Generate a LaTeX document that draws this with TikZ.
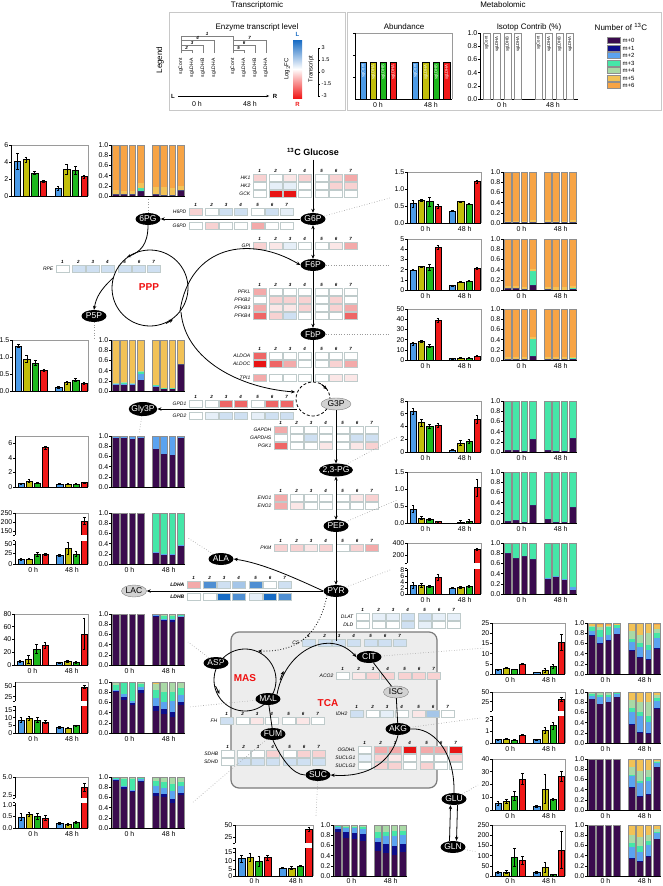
\documentclass[tikz,border=0pt]{standalone}
\usepackage{fontspec}
\setmainfont{Liberation Sans}
\usetikzlibrary{arrows.meta,shapes.geometric}
\newcommand\fsz[1]{\fontsize{#1}{#1}\selectfont}
\definecolor{cB}{HTML}{4C9BE8}\definecolor{cO}{HTML}{C2BE0A}
\definecolor{cG}{HTML}{1DB81D}\definecolor{cR}{HTML}{F01818}
\colorlet{bc1}{cB}\colorlet{bc2}{cO}\colorlet{bc3}{cG}\colorlet{bc4}{cR}
\colorlet{bc5}{cB}\colorlet{bc6}{cO}\colorlet{bc7}{cG}\colorlet{bc8}{cR}
\definecolor{m0}{HTML}{3A0B4E}\definecolor{m1}{HTML}{0D0D8A}
\definecolor{m2}{HTML}{5BA3F0}\definecolor{m3}{HTML}{45E6A8}
\definecolor{m4}{HTML}{A9D9A6}\definecolor{m5}{HTML}{F2C257}
\definecolor{m6}{HTML}{F7A445}
\definecolor{hw}{HTML}{FFFFFF}\definecolor{hp}{HTML}{FBE7E7}
\definecolor{hr1}{HTML}{F8D2D2}\definecolor{hr2}{HTML}{F3AAAA}
\definecolor{hr3}{HTML}{EE6666}\definecolor{hr4}{HTML}{E81414}
\definecolor{hq}{HTML}{E6EFF8}\definecolor{hb1}{HTML}{CFE0F2}
\definecolor{hb2}{HTML}{A5C6E8}\definecolor{hb3}{HTML}{4F8FD2}
\definecolor{hb4}{HTML}{176BC4}\definecolor{hcell}{HTML}{BFCBCB}
\definecolor{sgray}{HTML}{8E8E8E}\definecolor{fgray}{HTML}{9A9A9A}
\definecolor{tcafill}{HTML}{EDEDED}\definecolor{tcaline}{HTML}{7A7A7A}
\definecolor{lgfill}{HTML}{D2D2D2}\definecolor{lgline}{HTML}{C8C8C8}
\definecolor{redlab}{HTML}{F01010}
\tikzset{
 met/.style={ellipse,fill=black,text=white,font=\fsz{8.5},inner xsep=-1.5pt,inner ysep=1pt,minimum width=25pt,minimum height=12pt},
 gmet/.style={met,fill=lgfill,draw=gray,text=black},
 arr/.style={-{Stealth[length=4pt,width=3.4pt]},line width=0.8pt},
 darr/.style={{Stealth[length=4pt,width=3.4pt]}-{Stealth[length=4pt,width=3.4pt]},line width=0.8pt},
 pl/.style={line width=0.8pt},
 dotc/.style={dotted,fgray,line width=0.6pt},
 tl/.style={font=\fsz{7},inner sep=0.5pt},
 glab/.style={font=\fsz{5}\itshape,inner sep=0.5pt},
 hnumst/.style={font=\fsz{4.5}\bfseries\itshape,inner sep=0pt},
 redl/.style={font=\fsz{10}\bfseries,text=redlab},
 ttl/.style={font=\fsz{8},inner sep=0.5pt}
}
% abundance chart: x, ytop, W, ticks frac/label, bars frac/err
\newcommand\abund[5]{%
\begin{scope}[shift={(#1,#2)}]
 \pgfmathsetmacro\bw{#3*0.085}%
 \foreach \qf/\qe [count=\i] in {#5}{%
   \pgfmathsetmacro\bx{#3*(0.04+mod(\i-1,4)*0.112+(\i>4)*0.53)}%
   \pgfmathsetmacro\bt{51-\qf*51}%
   \pgfmathsetmacro\eu{\bt-\qe*51}%
   \pgfmathsetmacro\el{\bt+\qe*51}%
   \pgfmathsetmacro\bm{\bx+\bw/2}%
   \filldraw[fill=bc\i,draw=black,line width=0.4pt] (\bx,51) rectangle ({\bx+\bw},\bt);
   \draw[line width=0.5pt] (\bm,\eu) -- (\bm,\el) ({\bm-1.3},\eu) -- ({\bm+1.3},\eu) ({\bm-1.3},\el) -- ({\bm+1.3},\el);
 }
 \draw[fgray,line width=0.6pt] (0,0) -- (#3,0) -- (#3,51);
 \draw[line width=0.7pt] (0,0) -- (0,51) -- (#3,51);
 \foreach \qf/\ql in {#4}{%
   \pgfmathsetmacro\ty{51-\qf*51}%
   \draw[line width=0.6pt] (-2,\ty) -- (0,\ty);
   \node[tl,anchor=east] at (-2,\ty) {\ql};
 }
\end{scope}}
% stacked chart: x, ytop, bars (cumulative tops m0..m5)
\newcommand\stack[3]{%
\begin{scope}[shift={(#1,#2)}]
 \foreach \qa/\qb/\qc/\qd/\qe/\qf [count=\i] in {#3}{%
   \pgfmathsetmacro\bx{74*(0.02+mod(\i-1,4)*0.112+(\i>4)*0.54)}%
   \pgfmathsetmacro\bxx{\bx+6.6}%
   \fill[m6] (\bx,0) rectangle (\bxx,51);
   \fill[m0] (\bx,51) rectangle (\bxx,{51-\qa*51});
   \fill[m1] (\bx,{51-\qa*51}) rectangle (\bxx,{51-\qb*51});
   \fill[m2] (\bx,{51-\qb*51}) rectangle (\bxx,{51-\qc*51});
   \fill[m3] (\bx,{51-\qc*51}) rectangle (\bxx,{51-\qd*51});
   \fill[m4] (\bx,{51-\qd*51}) rectangle (\bxx,{51-\qe*51});
   \fill[m5] (\bx,{51-\qe*51}) rectangle (\bxx,{51-\qf*51});
   \draw[sgray,line width=0.8pt] (\bx,51) rectangle (\bxx,0);
 }
 \draw[line width=0.7pt] (0,0) -- (0,51) -- (74,51);
 \foreach \qf/\ql in {0/0.0,0.2/0.2,0.4/0.4,0.6/0.6,0.8/0.8,1/1.0}{%
   \pgfmathsetmacro\ty{51-\qf*51}%
   \draw[line width=0.6pt] (-2,\ty) -- (0,\ty);
   \node[tl,anchor=east] at (-2,\ty) {\ql};
 }
\end{scope}}
\newcommand\tlab[3]{%
 \node[tl] at ({#1+0.25*#3},{#2+57}) {0 h};
 \node[tl] at ({#1+0.78*#3},{#2+57}) {48 h};}
\newcommand\brk[5]{%
\begin{scope}[shift={(#1,#2)}]
 \fill[white] (-2.6,{51-#5*51}) rectangle ({#3-0.6},{51-#4*51});
 \draw[line width=0.6pt] (-2,{51-#5*51}) -- (0,{51-#5*51}) (-2,{51-#4*51}) -- (0,{51-#4*51});
\end{scope}}
\newcommand\hrow[4]{%
 \node[glab,anchor=east] at ({#1-2},{#2+3.5}) {#3};
 \foreach \cc [count=\i] in {#4}{%
   \pgfmathsetmacro\hx{#1+(\i-1)*14.5+(\i>1)*1.5+(\i>4)*2.5}%
   \filldraw[fill=h\cc,draw=hcell,line width=0.5pt] (\hx,#2) rectangle ++(13,7);
 }}
\newcommand\hnum[2]{%
 \foreach \i in {1,...,7}{%
   \pgfmathsetmacro\hx{#1+(\i-1)*14.5+(\i>1)*1.5+(\i>4)*2.5+6.5}%
   \node[hnumst] at (\hx,{#2-3.5}) {\i};
 }}
\begin{document}
\begin{tikzpicture}[x=1pt,y=-1pt]
\useasboundingbox (0,0) rectangle (662,886);
\fill[white] (0,0) rectangle (662,886);

%================ LEGEND =================
\node[ttl] (tT) at (257,5) {Transcriptomic};
\node[ttl] (tM) at (503,5) {Metabolomic};
\draw[lgline,line width=0.8pt] (169,12) rectangle (345,110);
\draw[lgline,line width=0.8pt] (347,12) rectangle (661.5,110);
\node[rotate=90,font=\fsz{8}] (lg) at (160,60) {Legend};
\node[ttl] (etl) at (257,27) {Enzyme transcript level};
% heat legend columns
\foreach \xx/\ll in {181/sgCont,192/sgLDHA,203/sgLDHB,214/sgLDHA/B,233/sgCont,244/sgLDHA,255/sgLDHB,266/sgLDHA/B}{
  \node[rotate=90,anchor=east,font=\fsz{5}] at (\xx,55) {\ll};}
\draw[gray,line width=0.5pt] (181,53) -- (181,36) -- (233,36) -- (233,53);
\node[hnumst] at (207,33.5) {1};
\foreach \xx/\hh/\nn in {192/50/2,203/45/3,214/40/4}{
  \draw[gray,line width=0.5pt] (181,53) -- (181,\hh) -- (\xx,\hh) -- (\xx,53);
  \node[hnumst] at ({(181+\xx)/2},{\hh-2.5}) {\nn};}
\foreach \xx/\hh/\nn in {244/50/5,255/45/6,266/40/7}{
  \draw[gray,line width=0.5pt] (233,53) -- (233,\hh) -- (\xx,\hh) -- (\xx,53);
  \node[hnumst] at ({(233+\xx)/2},{\hh-2.5}) {\nn};}
\node[font=\fsz{6}\bfseries] (lL) at (173,96) {L};
\node[font=\fsz{6}\bfseries] (lR) at (275,96) {R};
\draw[line width=0.6pt,-{Stealth[length=3pt]}] (lL) -- (lR);
\node[tl] at (197,104) {0 h};
\node[tl] at (250,104) {48 h};
% colorbar
\shade[top color=hb4,bottom color=cR,middle color=white] (293,40) rectangle (302,98);
\node[font=\fsz{6}\bfseries,text=hb4] at (297.5,34) {L};
\node[font=\fsz{6}\bfseries,text=cR] at (297.5,104) {R};
\node[rotate=90,font=\fsz{6}] at (287,69) {Log$_2$FC};
\node[rotate=90,font=\fsz{6}] at (311,69) {Transcript};
\draw[line width=0.5pt] (318,48) -- (318,96);
\foreach \yy/\ll in {48/3,60/1.5,72/0,84/-1.5,96/-3}{
  \draw[line width=0.5pt] (318,\yy) -- (320,\yy);
  \node[font=\fsz{5.5},anchor=west,inner sep=0.5pt] at (321,\yy) {\ll};}
% abundance legend
\node[ttl] at (404,27) {Abundance};
\draw[fgray,line width=0.6pt] (355,33) -- (452,33) -- (452,99);
\draw[line width=0.7pt] (355,33) -- (355,99) -- (452,99);
\foreach \yy in {33,55,77}{\draw[line width=0.6pt] (353,\yy) -- (355,\yy);}
\foreach \xx/\cc/\ll in {360/cB/sgCont,370/cO/sgLDHA,380/cG/sgLDHB,390/cR/sgLDHA/B,412/cB/sgCont,422.5/cO/sgLDHA,433/cG/sgLDHB,443.5/cR/sgLDHA/B}{
  \filldraw[fill=\cc,draw=black,line width=0.4pt] (\xx,99) rectangle ++(6.5,-37);
  \node[rotate=90,anchor=east,font=\fsz{4.2},text=white,inner sep=0pt] at ({\xx+3.25},64) {\ll};}
\node[tl] at (378,105) {0 h};
\node[tl] at (431,105) {48 h};
% isotope legend
\node[ttl] at (529,27) {Isotop Contrib (\%)};
\draw[line width=0.7pt] (480,33) -- (480,99) -- (578,99);
\foreach \ff/\ll in {0/0.0,0.2/0.2,0.4/0.4,0.6/0.6,0.8/0.8,1/1.0}{
  \draw[line width=0.6pt] (478,{99-\ff*66}) -- (480,{99-\ff*66});
  \node[tl,anchor=east] at (478,{99-\ff*66}) {\ll};}
\foreach \xx/\ll in {483/sgCont,493.5/sgLDHA,504/sgLDHB,514.5/sgLDHA/B,535/sgCont,545.5/sgLDHA,556/sgLDHB,566.5/sgLDHA/B}{
  \draw[sgray,line width=0.8pt] (\xx,99) rectangle ++(7,-66);
  \node[rotate=90,anchor=east,font=\fsz{4.2},inner sep=0pt] at ({\xx+3.5},36) {\ll};}
\node[tl] at (502,105) {0 h};
\node[tl] at (553,105) {48 h};
% number of 13C legend
\node[ttl] at (621,27) {Number of \textsuperscript{13}C};
\foreach \cc/\ll [count=\k] in {m0/m+0,m1/m+1,m2/m+2,m3/m+3,m4/m+4,m5/m+5,m6/m+6}{
  \filldraw[fill=\cc,draw=sgray,line width=0.4pt] (607,{36+\k*7.5}) rectangle ++(13,-6);
  \node[font=\fsz{6},anchor=west,inner sep=0.5pt] at (622,{33+\k*7.5}) {\ll};}

%================ TCA BOX =================
\draw[rounded corners=8pt,fill=tcafill,draw=tcaline,line width=1.2pt] (231,632) rectangle (437,788);

%================ HEATMAPS =================
\hnum{253}{174}
\hrow{253}{174}{HK1}{r1,w,p,r1,w,r1,r2}
\hrow{253}{182}{HK2}{w,q,q,w,w,r1,r1}
\hrow{253}{190}{GCK}{w,r4,r4,w,w,w,w}
\hnum{189}{208}
\hrow{189}{208}{H6PD}{r1,w,b1,b1,w,b1,q}
\hrow{189}{222}{G6PD}{w,r1,w,w,r2,w,w}
\hnum{253}{242}
\hrow{253}{242}{GPI}{r1,p,q,w,w,p,r2}
\hnum{56}{265}
\hrow{56}{265}{RPE}{w,b1,b1,b1,b1,b1,b1}
\hnum{253}{288}
\hrow{253}{288}{PFKL}{r2,w,w,w,w,w,w}
\hrow{253}{296}{PFKB2}{w,r1,r1,r1,w,r1,w}
\hrow{253}{304}{PFKB3}{r2,p,p,r1,w,r1,r2}
\hrow{253}{312}{PFKB4}{r3,r1,b1,w,w,w,r3}
\hnum{253}{352}
\hrow{253}{352}{ALDOA}{r3,w,w,w,w,w,w}
\hrow{253}{360}{ALDOC}{r4,r3,r2,w,w,r1,r2}
\hrow{253}{374}{TPI1}{r2,w,w,w,w,p,p}
\hnum{189}{400}
\hrow{189}{400}{GPD1}{w,w,r3,r3,w,r3,r3}
\hrow{189}{412}{GPD2}{w,q,b1,b1,q,b1,b1}
\hnum{274}{426}
\hrow{274}{426}{GAPDH}{r2,w,w,w,w,w,w}
\hrow{274}{434}{GAPDHS}{w,w,b1,w,w,b1,b1}
\hrow{274}{442}{PGK1}{r3,w,w,p,w,p,r1}
\hnum{274}{494}
\hrow{274}{494}{ENO1}{r2,w,w,w,w,p,r1}
\hrow{274}{502}{ENO2}{r2,p,w,w,w,w,w}
\hnum{274}{544}
\hrow{274}{544}{PKM}{r1,r1,p,r1,w,r1,r2}
\hnum{187}{581}
\hrow{187}{581}{\bfseries LDHA}{r2,b3,b1,b2,b3,w,b1}
\hrow{187}{593}{\bfseries LDHB}{w,w,b4,b3,q,b4,b3}
\hnum{356}{613}
\hrow{356}{613}{DLAT}{w,q,q,b1,b1,q,q}
\hrow{356}{621}{DLD}{w,w,w,b1,q,w,w}
\hnum{302}{639}
\hrow{302}{639}{CS}{b1,b1,b1,b1,b1,b1,b1}
\hnum{336}{672}
\hrow{336}{672}{ACO2}{w,p,r1,r1,r1,r1,r1}
\hnum{350}{710}
\hrow{350}{710}{IDH2}{b1,w,q,w,p,b2,w}
\hnum{220}{717}
\hrow{220}{717}{FH}{b1,w,p,w,w,p,w}
\hnum{221}{750}
\hrow{221}{750}{SDHB}{w,w,w,r1,w,r1,r1}
\hrow{221}{758}{SDHD}{w,b1,b1,b1,b1,b1,b1}
\hnum{358}{746}
\hrow{358}{746}{OGDHL}{w,r2,r2,r4,r2,r2,r4}
\hrow{358}{754}{SUCLG1}{q,r1,p,w,w,w,r1}
\hrow{358}{762}{SUCLG2}{w,r1,r1,w,r1,w,w}

%================ CHARTS =================
% 6PG
\abund{11}{145}{77}{0/0,0.333/2,0.667/4,1/6}{0.683/0.15,0.717/0.05,0.45/0.033,0.283/0.017,0.15/0.033,0.517/0.1,0.5/0.083,0.383/0.033}
\stack{111}{145}{0.03/0.03/0.03/0.03/0.03/0.11,0.03/0.03/0.03/0.03/0.03/0.10,0.03/0.03/0.03/0.03/0.03/0.10,0.10/0.10/0.10/0.15/0.15/0.25,0.03/0.03/0.03/0.03/0.03/0.18,0.02/0.02/0.02/0.02/0.02/0.18,0.02/0.02/0.02/0.02/0.02/0.15,0.12/0.12/0.12/0.12/0.12/0.20}
% P5P
\abund{12}{340}{76}{0/0.0,0.333/0.5,0.667/1.0,1/1.5}{0.887/0.033,0.633/0.067,0.553/0.053,0.413/0.02,0.067/0.02,0.167/0.027,0.22/0.033,0.153/0.013}
\stack{111}{340}{0.11/0.11/0.13/0.15/0.16/1,0.12/0.12/0.14/0.17/0.18/1,0.11/0.11/0.13/0.15/0.16/1,0.21/0.21/0.33/0.38/0.40/1,0.09/0.09/0.10/0.12/0.12/1,0.05/0.05/0.05/0.06/0.06/1,0.05/0.05/0.05/0.06/0.06/1,0.53/0.53/0.53/0.53/0.53/1}
% Gly3P
\abund{15}{436}{73}{0/0,0.286/2,0.571/4,0.857/6}{0.071/0.01,0.114/0.03,0.079/0.01,0.771/0.03,0.057/0.01,0.064/0.01,0.057/0.01,0.093/0.01}
\stack{111}{436}{0.96/0.96/1/1/1/1,0.97/0.97/1/1/1/1,0.95/0.95/1/1/1/1,0.97/0.97/1/1/1/1,0.74/0.74/1/1/1/1,0.64/0.64/1/1/1/1,0.63/0.63/1/1/1/1,0.96/0.96/1/1/1/1}
% ALA
\abund{15}{513}{73}{0/0,0.215/25,0.39/50,0.65/150,0.82/200,1/250}{0.09/0.015,0.10/0.015,0.19/0.045,0.19/0.015,0.17/0.015,0.31/0.11,0.2/0.045,0.84/0.07}
\brk{15}{513}{73}{0.46}{0.56}
\tlab{15}{513}{73}
\stack{111}{513}{1/1/1/1/1/1,1/1/1/1/1/1,1/1/1/1/1/1,1/1/1/1/1/1,0.22/0.22/0.24/1/1/1,0.17/0.17/0.19/1/1/1,0.17/0.17/0.19/1/1/1,0.36/0.36/0.38/1/1/1}
\tlab{111}{513}{74}
% ASP
\abund{14}{614}{74}{0/0,0.25/20,0.5/40,0.75/60,1/80}{0.075/0.025,0.1125/0.075,0.3125/0.0875,0.3875/0.05,0.05/0.0125,0.075/0.025,0.05/0.025,0.6125/0.3125}
\tlab{14}{614}{74}
\stack{111}{614}{1/1/1/1/1/1,1/1/1/1/1/1,1/1/1/1/1/1,1/1/1/1/1/1,0.95/0.96/0.98/1/1/1,0.87/0.89/0.91/0.96/1/1,0.85/0.88/0.90/0.96/1/1,0.95/0.96/0.97/0.99/1/1}
\tlab{111}{614}{74}
% MAL
\abund{15}{682}{73}{0/0,0.16/5,0.3/10,0.45/15,0.71/25,0.92/50}{0.26/0.043,0.29/0.043,0.26/0.04,0.22/0.035,0.115/0.015,0.10/0.015,0.145/0.015,0.90/0.03}
\brk{15}{682}{73}{0.52}{0.62}
\tlab{15}{682}{73}
\stack{111}{682}{0.81/0.83/0.85/0.94/1/1,0.64/0.70/0.76/0.98/1/1,0.55/0.58/0.63/1/1/1,0.78/0.85/0.90/0.96/1/1,0.43/0.52/0.68/0.84/0.97/1,0.37/0.47/0.60/0.80/1/1,0.32/0.42/0.62/0.80/1/1,0.55/0.60/0.74/0.88/1/1}
\tlab{111}{682}{74}
% FUM
\abund{15}{777}{73}{0/0.0,0.235/0.5,0.45/1.0,0.65/2.5,1/5.0}{0.22/0.07,0.27/0.045,0.235/0.055,0.2/0.055,0.09/0.022,0.07/0.022,0.11/0.022,0.8/0.07}
\brk{15}{777}{73}{0.5}{0.58}
\tlab{15}{777}{73}
\stack{111}{777}{0.93/0.95/0.96/0.99/1/1,0.77/0.80/0.82/0.97/1/1,0.70/0.73/0.75/0.97/1/1,0.90/0.93/0.96/1/1/1,0.63/0.69/0.82/0.92/1/1,0.60/0.67/0.78/0.90/1/1,0.50/0.57/0.72/0.87/1/1,0.64/0.69/0.82/0.90/1/1}
\tlab{111}{777}{74}
% G6P
\abund{407}{172}{74}{0/0.0,0.333/0.5,0.667/1.0,1/1.5}{0.38/0.067,0.447/0.02,0.42/0.093,0.327/0.033,0.24/0.013,0.42/0.013,0.373/0.013,0.813/0.033}
\tlab{407}{172}{74}
\stack{503}{172}{0.01/0.01/0.01/0.01/0.01/0.04,0.01/0.01/0.01/0.01/0.01/0.03,0.01/0.01/0.01/0.01/0.01/0.04,0.01/0.01/0.01/0.01/0.01/0.05,0.01/0.01/0.01/0.01/0.01/0.05,0.01/0.01/0.01/0.01/0.01/0.04,0.01/0.01/0.01/0.01/0.01/0.04,0.01/0.01/0.01/0.01/0.01/0.05}
\tlab{503}{172}{74}
% F6P
\abund{407}{239}{74}{0/0,0.2/1,0.4/2,0.6/3,0.8/4,1/5}{0.39/0.01,0.46/0.01,0.45/0.06,0.84/0.04,0.09/0.01,0.16/0.01,0.176/0.01,0.43/0.02}
\tlab{407}{239}{74}
\stack{503}{239}{0.04/0.04/0.04/0.04/0.04/0.08,0.04/0.04/0.04/0.04/0.04/0.07,0.02/0.02/0.02/0.02/0.02/0.06,0.10/0.10/0.10/0.38/0.38/0.41,0.01/0.01/0.01/0.01/0.01/0.06,0/0/0/0/0/0.05,0/0/0/0/0/0.05,0.01/0.01/0.01/0.03/0.03/0.08}
\tlab{503}{239}{74}
% FbP
\abund{407}{309}{74}{0/0,0.2/10,0.4/20,0.6/30,0.8/40,1/50}{0.32/0.03,0.36/0.02,0.28/0.03,0.78/0.03,0.03/0.01,0.04/0.01,0.04/0.01,0.08/0.01}
\tlab{407}{309}{74}
\stack{503}{309}{0.02/0.02/0.02/0.02/0.02/0.06,0.02/0.02/0.02/0.02/0.02/0.06,0.02/0.02/0.02/0.02/0.02/0.05,0.08/0.08/0.08/0.42/0.42/0.46,0.01/0.01/0.01/0.01/0.01/0.05,0.01/0.01/0.01/0.01/0.01/0.05,0.01/0.01/0.01/0.01/0.01/0.05,0.02/0.02/0.02/0.03/0.03/0.06}
\tlab{503}{309}{74}
% 2,3-PG
\abund{407}{401}{74}{0/0,0.25/2,0.5/4,0.75/6,1/8}{0.8/0.0625,0.575/0.075,0.5/0.0375,0.519/0.0375,0.044/0.005,0.175/0.05,0.206/0.0375,0.6375/0.075}
\tlab{407}{401}{74}
\stack{503}{401}{0.03/0.03/0.03/1/1/1,0.03/0.03/0.03/1/1/1,0.02/0.02/0.02/1/1/1,0.26/0.26/0.26/1/1/1,0.03/0.03/0.03/1/1/1,0.01/0.01/0.01/1/1/1,0.01/0.01/0.01/1/1/1,0.28/0.28/0.28/1/1/1}
\tlab{503}{401}{74}
% PEP
\abund{407}{472}{74}{0/0.0,0.333/0.5,0.667/1.0,1/1.5}{0.28/0.067,0.1/0.027,0.08/0.02,0.027/0.005,0/0,0.02/0.027,0.04/0.027,0.693/0.167}
\tlab{407}{472}{74}
\stack{503}{472}{0.04/0.04/0.04/1/1/1,0.06/0.06/0.06/1/1/1,0.01/0.01/0.01/1/1/1,0.35/0.35/0.35/1/1/1,0.08/0.08/0.08/1/1/1,0.01/0.01/0.01/1/1/1,0.01/0.01/0.01/1/1/1,0.32/0.32/0.32/1/1/1}
\tlab{503}{472}{74}
% PYR
\abund{407}{543}{74}{0/0,0.12/2,0.235/4,0.35/6,0.47/8,0.765/200,1/400}{0.18/0.06,0.18/0.04,0.15/0.02,0.32/0.06,0.12/0.01,0.135/0.02,0.15/0.02,0.88/0.02}
\brk{407}{543}{74}{0.5}{0.6}
\tlab{407}{543}{74}
\stack{503}{543}{0.8/0.8/0.8/1/1/1,0.7/0.7/0.7/1/1/1,0.74/0.74/0.74/1/1/1,0.68/0.68/0.68/1/1/1,0.30/0.30/0.31/1/1/1,0.35/0.35/0.36/1/1/1,0.29/0.29/0.30/1/1/1,0.08/0.08/0.13/1/1/1}
\tlab{503}{543}{74}
% CIT
\abund{492}{623}{73}{0/0,0.2/5,0.4/10,0.6/15,0.8/20,1/25}{0.088/0.008,0.12/0.008,0.092/0.008,0.2/0.008,0.032/0.004,0.08/0.04,0.152/0.04,0.62/0.16}
\tlab{492}{623}{73}
\stack{587}{623}{0.755/0.76/0.84/0.92/0.95/0.99,0.60/0.61/0.73/0.87/0.92/0.97,0.66/0.67/0.77/0.94/0.95/0.97,0.79/0.79/0.90/0.97/0.98/0.99,0.45/0.47/0.63/0.69/0.84/0.98,0.32/0.34/0.52/0.60/0.77/1,0.28/0.30/0.48/0.56/0.80/1,0.50/0.51/0.70/0.80/0.88/0.97}
\tlab{587}{623}{74}
% AKG
\abund{492}{692}{73}{0/0,0.225/1,0.45/2,0.81/25,1/50}{0.068/0.01,0.08/0.01,0.056/0.01,0.16/0.01,0.068/0.01,0.25/0.068,0.34/0.068,0.86/0.04}
\brk{492}{692}{73}{0.52}{0.62}
\tlab{492}{692}{73}
\stack{587}{692}{0.86/0.86/0.92/0.96/1/1,0.77/0.77/0.90/0.95/1/1,0.80/0.80/0.90/0.95/1/1,0.90/0.90/0.97/1/1/1,0.35/0.37/0.60/0.69/0.84/1,0.20/0.22/0.52/0.60/0.80/1,0.18/0.20/0.42/0.52/0.80/1,0.68/0.69/0.82/0.88/0.94/1}
\tlab{587}{692}{74}
% GLU
\abund{492}{759}{73}{0/0,0.25/10,0.5/20,0.75/30,1/40}{0.1375/0.0375,0.175/0.0375,0.275/0.0875,0.6125/0.1125,0.075/0.0125,0.4125/0.2875,0.2125/0.025,0.6625/0.1}
\tlab{492}{759}{73}
\stack{587}{759}{1/1/1/1/1/1,1/1/1/1/1/1,1/1/1/1/1/1,1/1/1/1/1/1,0.45/0.46/0.66/0.68/0.85/1,0.26/0.27/0.52/0.57/0.77/1,0.30/0.31/0.57/0.65/0.79/1,0.85/0.85/0.92/0.94/0.96/1}
\tlab{587}{759}{74}
% GLN
\abund{492}{825}{73}{0/0,0.2/50,0.4/100,0.6/150,0.8/200,1/250}{0.068/0.02,0.08/0.032,0.368/0.18,0.308/0.08,0.072/0.016,0.172/0.1,0.028/0.008,0.508/0.36}
\tlab{492}{824}{73}
\stack{587}{825}{1/1/1/1/1/1,1/1/1/1/1/1,1/1/1/1/1/1,1/1/1/1/1/1,0.355/0.36/0.56/0.65/0.80/1,0.29/0.30/0.48/0.58/0.77/1,0.39/0.40/0.61/0.68/0.81/1,0.73/0.73/0.84/0.87/0.92/1}
\tlab{587}{824}{74}
% SUC
\abund{235}{825}{78}{0/0,0.14/5,0.3/10,0.47/15,0.76/25,1/50}{0.34/0.065,0.375/0.08,0.29/0.1,0.36/0.05,0.16/0.01,0.16/0.033,0.2/0.01,0.92/0.04}
\brk{235}{825}{78}{0.54}{0.64}
\tlab{235}{824}{78}
\stack{333}{825}{0.87/0.92/0.97/0.99/1/1,0.755/0.86/0.95/0.97/1/1,0.72/0.84/0.94/0.97/1/1,0.69/0.82/0.92/0.96/1/1,0.50/0.66/0.75/0.87/1/1,0.45/0.63/0.79/0.87/1/1,0.42/0.59/0.79/0.88/1/1,0.48/0.63/0.81/0.89/1/1}
\tlab{333}{824}{74}

%================ NODES =================
\node[font=\fsz{9}\bfseries] (GLC) at (313,152) {\textsuperscript{13}C Glucose};
\node[met] (G6P) at (313,219) {G6P};
\node[met] (F6P) at (313,265) {F6P};
\node[met] (FbP) at (313,334) {FbP};
\node[met] (SixPG) at (148,219) {6PG};
\node[met] (P5P) at (94,316) {P5P};
\node[met] (Gly3P) at (143,409) {Gly3P};
\node[met] (PG) at (336,470) {2,3-PG};
\node[met] (PEP) at (336,526) {PEP};
\node[met] (PYR) at (336,591) {PYR};
\node[met] (ALA) at (221,559) {ALA};
\node[met] (ASP) at (216,663) {ASP};
\node[met] (MAL) at (268,699) {MAL};
\node[met] (FUM) at (273,734) {FUM};
\node[met] (SUC) at (318,775) {SUC};
\node[met] (CIT) at (369,657) {CIT};
\node[met] (AKG) at (398,729) {AKG};
\node[met] (GLU) at (454,799) {GLU};
\node[met] (GLN) at (453,847) {GLN};

%================ CONNECTORS =================
\coordinate (dc) at (313,399);
\coordinate (dctop) at (313,382);
\coordinate (g3l) at (297,409);
\draw[arr] (GLC) -- (G6P);
\draw[darr] (G6P) -- (F6P);
\draw[arr] (F6P) -- (FbP);
\draw[pl] (FbP) -- (dctop);
\draw[pl,dashed,dash pattern=on 3pt off 2pt] (dc) circle (17);
\draw[arr] (321.5,384.3) -- (327,389.3);
\node[gmet,minimum width=30pt] (G3P) at (336,404) {G3P};
\node[gmet] (LAC) at (134,591) {LAC};
\node[gmet] (ISC) at (396,692) {ISC};
\draw[arr] (G6P) -- (SixPG);
\draw[arr] (g3l) -- (Gly3P);
\draw[arr] (G3P) -- (PG);
\draw[darr] (PG) -- (PEP);
\draw[arr] (PEP) -- (PYR);
\draw[arr] (PYR.west) .. controls (295,578) and (262,563) .. (ALA.east);
\draw[arr] (PYR) -- (LAC);
% PPP
\coordinate (pppc) at (150,288);
\draw[pl] (pppc) circle (38);
\draw[arr] (SixPG.south) .. controls (148,245) and (140,252) .. (127,257);
\draw[arr] (113,278) .. controls (100,290) and (96,298) .. (P5P.north);
\draw[arr] (166,323.5) -- (173,319.5);
\draw[arr] (180,311) .. controls (190,245) and (250,235) .. (F6P.west);
\draw[arr] (181,312) .. controls (185,360) and (240,388) .. (295,392);
% TCA & MAS
\coordinate (pyrdn) at (336,641);
\coordinate (masc) at (245,680);
\coordinate (mastop) at (258,651);
\draw[pl] (masc) circle (31);
\draw[arr] (215.5,686) -- (219.5,694);
\draw[arr,dotted] (PYR.south west) .. controls (318,640) and (292,652) .. (mastop);
\draw[pl] (PYR) -- (pyrdn);
\draw[arr] (MAL.north east) .. controls (285,650) and (330,628) .. (CIT.west);
\draw[arr] (280,680) -- (283.5,671);
\draw[pl] (CIT) -- (ISC);
\draw[pl] (ISC) -- (AKG);
\draw[arr] (AKG.south) .. controls (392,760) and (370,778) .. (SUC.east);
\draw[pl] (SUC.west) .. controls (292,775) and (280,756) .. (FUM.south);
\draw[pl] (FUM) -- (MAL);
\draw[pl] (AKG.east) .. controls (432,727) and (455,750) .. (GLU.north);
\draw[arr] ([xshift=-3.5pt]GLN.north) -- ([xshift=-3.5pt]GLU.south);
\draw[arr] ([xshift=3.5pt]GLU.south) -- ([xshift=3.5pt]GLN.north);
\node[redl] at (149,287) {PPP};
\node[redl] at (245,678) {MAS};
\node[redl] at (328,703) {TCA};
% dotted links to charts
\coordinate (e6pg) at (148,198);
\coordinate (ep5p) at (94,338);
\coordinate (egly) at (139,434);
\coordinate (eala) at (188,538);
\coordinate (easp) at (188,642);
\coordinate (emal) at (189,707);
\coordinate (efum) at (192,803);
\coordinate (esuc) at (316,816);
\coordinate (eg6p) at (390,198);
\coordinate (ef6p) at (390,265);
\coordinate (efbp) at (390,334);
\coordinate (epg) at (397,437);
\coordinate (epep) at (397,500);
\coordinate (epyr) at (390,570);
\coordinate (ecit) at (485,648);
\coordinate (eakg) at (480,718);
\coordinate (eglu) at (478,785);
\coordinate (egln) at (477,852);
\draw[dotc] (SixPG) -- (e6pg);
\draw[dotc] (P5P) -- (ep5p);
\draw[dotc] (Gly3P) -- (egly);
\draw[dotc] (ALA) -- (eala);
\draw[dotc] (ASP) -- (easp);
\draw[dotc] (MAL) -- (emal);
\draw[dotc] (FUM) -- (efum);
\draw[dotc] (SUC) -- (esuc);
\draw[dotc] (G6P) -- (eg6p);
\draw[dotc] (F6P) -- (ef6p);
\draw[dotc] (FbP) -- (efbp);
\draw[dotc] (PG) -- (epg);
\draw[dotc] (PEP) -- (epep);
\draw[dotc] (PYR) -- (epyr);
\draw[dotc] (CIT) -- (ecit);
\draw[dotc] (AKG) -- (eakg);
\draw[dotc] (GLU) -- (eglu);
\draw[dotc] (GLN) -- (egln);
\end{tikzpicture}
\end{document}
